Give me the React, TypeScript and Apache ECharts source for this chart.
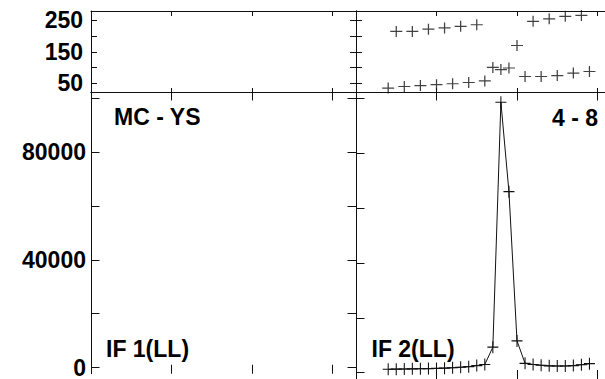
import React, { useEffect, useRef } from "react";
import * as echarts from "echarts";

// sample positions (same for both measured quantities)
const sampleX = [4, 5, 6, 7, 8, 9, 10, 11, 12, 13, 14, 15, 16, 17, 18, 19, 20, 21, 22, 23, 24, 25, 26, 27, 28, 29];
// top strip values (right panel)
const stripValues = [34, 215, 39, 215, 42, 222, 45, 226, 48, 231, 52, 236, 57, 100, 93, 98, 170, 71, 247, 71, 255, 74, 263, 82, 266, 87];
// bottom panel values (right panel, IF 2)
const intensityValues = [1250, 1300, 1350, 1400, 1450, 1500, 1550, 1650, 1800, 2000, 2200, 2600, 3000, 9300, 98600, 66000, 11600, 3400, 3000, 2700, 2500, 2450, 2450, 2600, 2900, 3300];

const stripTicks = [50, 100, 150, 200, 250];
const stripLabels = [50, 150, 250];
const mainTicks = [0, 20000, 40000, 60000, 80000, 100000];
const mainLabels = [0, 40000, 80000];

const panelTexts = [
  { text: "MC - YS", x: 114, y: 117, align: "left" },
  { text: "4 - 8", x: 598, y: 117.5, align: "right" },
  { text: "IF 1(LL)", x: 106, y: 348.5, align: "left" },
  { text: "IF 2(LL)", x: 371.5, y: 348.5, align: "left" },
];

const FONT = "'Liberation Sans', Arial, Helvetica, sans-serif";
const INK = "#111";
const PX_PER_UNIT = 8.05;
const PLUS = "path://M0 6H12M6 0V12";

export default function App() {
  const ref = useRef<HTMLDivElement>(null);

  useEffect(() => {
    if (!ref.current) return;
    const chart = echarts.init(ref.current, null, { renderer: "svg" });

    const grids = [
      { left: 91, top: 11, width: 265, height: 81.5 },
      { left: 356, top: 11, width: 249, height: 81.5 },
      { left: 91, top: 92.5, width: 265, height: 286.5 },
      { left: 356, top: 92.5, width: 249, height: 286.5 },
    ];

    const lineStyle = { color: INK, width: 1 };
    const xAxes: any[] = [];
    const yAxes: any[] = [];
    grids.forEach((gr, g) => {
      const isStrip = g < 2;
      const isLeft = g % 2 === 0;
      const xmax = gr.width / PX_PER_UNIT;
      // bottom x axis
      xAxes.push({
        type: "value", gridIndex: g, position: "bottom", min: 0, max: xmax, interval: 10,
        axisLine: { show: isStrip, onZero: false, lineStyle },
        axisTick: { show: true, inside: true, length: isStrip ? 4.5 : 9, lineStyle },
        axisLabel: { show: false }, splitLine: { show: false },
      });
      // top x axis
      xAxes.push({
        type: "value", gridIndex: g, position: "top", min: 0, max: xmax, interval: 10,
        axisLine: { show: true, onZero: false, lineStyle },
        axisTick: { show: true, inside: true, length: isStrip ? 5 : 8, lineStyle },
        axisLabel: { show: false }, splitLine: { show: false },
      });
      const yBase = {
        type: "value", gridIndex: g,
        min: isStrip ? 20 : -2300, max: isStrip ? 280 : 102170,
        splitLine: { show: false },
      };
      yAxes.push({
        ...yBase, position: "left",
        axisLine: { show: true, onZero: false, lineStyle },
        axisTick: { show: true, inside: true, length: isStrip ? 6 : 8.5, lineStyle, customValues: isStrip ? stripTicks : mainTicks },
        axisLabel: {
          show: isLeft, customValues: isStrip ? stripLabels : mainLabels,
          formatter: (v: number) => String(v),
          fontFamily: FONT, fontSize: 23, fontWeight: "bold", color: "#000",
          margin: isStrip ? 8 : 5,
          padding: isStrip ? [4, 0, 0, 0] : [9, 0, 0, 0],
        },
      });
      yAxes.push({
        ...yBase, position: "right", show: isLeft,
        axisLine: { show: isLeft, onZero: false, lineStyle },
        axisTick: { show: isLeft, inside: true, length: isStrip ? 6 : 8.5, lineStyle, customValues: isStrip ? stripTicks : mainTicks },
        axisLabel: { show: false },
      });
    });

    const stripData = sampleX.map((x, i) => [x, stripValues[i]]);
    const mainData = sampleX.map((x, i) => [x, intensityValues[i]]);

    chart.setOption({
      animation: false,
      backgroundColor: "#fff",
      grid: grids.map((g) => ({ ...g, show: false })),
      xAxis: xAxes,
      yAxis: yAxes,
      series: [
        {
          type: "scatter", xAxisIndex: 2, yAxisIndex: 2, data: stripData,
          symbol: PLUS, symbolSize: [12, 11],
          itemStyle: { color: INK, borderColor: INK, borderWidth: 1.2 },
          silent: true,
        },
        {
          type: "line", xAxisIndex: 6, yAxisIndex: 6, data: mainData,
          symbol: PLUS, symbolSize: [11, 12], showSymbol: true,
          itemStyle: { color: INK, borderColor: INK, borderWidth: 1.1 },
          lineStyle: { color: INK, width: 1 },
          silent: true,
        },
      ],
      graphic: panelTexts.map((t) => ({
        type: "text", x: t.x, y: t.y, silent: true,
        style: {
          text: t.text, fill: "#000", font: `bold 23px ${FONT}`,
          align: t.align, verticalAlign: "middle",
        },
      })),
    });

    return () => chart.dispose();
  }, []);

  return (
    <div
      ref={ref}
      style={{ position: "absolute", left: 0, top: 0, width: 605, height: 379, overflow: "hidden", background: "#fff" }}
    />
  );
}
